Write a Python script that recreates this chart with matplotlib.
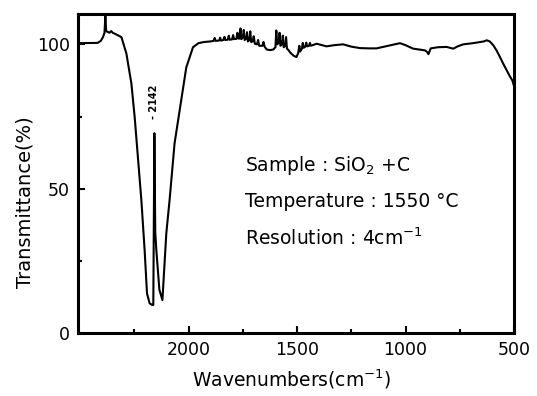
import matplotlib
matplotlib.use("Agg")
import matplotlib.pyplot as plt
from matplotlib.ticker import FixedLocator

# -----------------------------
# Data
# -----------------------------
wavenumber = [
    2510, 2420, 2405, 2395, 2388, 2384, 2380, 2372, 2365, 2357, 2350, 2341,
    2326, 2310, 2287, 2264, 2249, 2234, 2218, 2203, 2192, 2180, 2170, 2163,
    2158, 2154, 2149, 2135, 2121, 2103, 2088, 2065, 2042, 2011, 1980, 1955,
    1930, 1900,
    1885, 1880, 1876, 1860, 1855, 1851, 1840, 1835, 1831, 1820, 1815, 1811,
    1800, 1795, 1791, 1780, 1775, 1771, 1765, 1761, 1757, 1750, 1746, 1742,
    1735, 1731, 1727, 1720, 1716, 1712, 1705, 1700, 1695, 1685, 1680, 1675,
    1660, 1655, 1650, 1640, 1625, 1610, 1600, 1596, 1592, 1585, 1581, 1577,
    1570, 1566, 1562, 1555, 1551, 1547, 1540, 1530, 1515, 1503, 1495, 1490,
    1486, 1478, 1474, 1470, 1462, 1458, 1454, 1445, 1441, 1437, 1425, 1410,
    1390, 1364, 1330, 1288, 1250, 1211, 1170, 1134, 1080, 1026, 1000, 965,
    910, 900, 895, 890, 884, 850, 811, 780, 760, 734, 700, 672, 640, 626,
    612, 596, 580, 565, 550, 534, 520, 508, 500,
]
transmittance = [
    100.4, 100.5, 101.2, 102.5, 104.0, 109.8, 104.5, 104.3, 104.0, 104.6, 104.0, 103.7,
    103.1, 102.5, 96.8, 86.4, 74.9, 61.0, 46.0, 28.7, 13.7, 10.3, 9.8, 9.7,
    69.2, 35.0, 28.7, 15.0, 11.4, 34.6, 46.0, 65.7, 77.0, 92.0, 99.0, 100.4,
    100.8, 101.0,
    101.2, 102.2, 101.2, 101.3, 102.3, 101.3, 101.5, 102.6, 101.5, 101.6, 103.0, 101.6,
    101.7, 103.2, 101.8, 101.9, 104.0, 102.0, 102.0, 105.5, 101.8, 102.5, 105.0, 101.5,
    102.0, 104.2, 101.0, 101.5, 104.5, 100.8, 101.0, 102.8, 100.2, 100.0, 101.5, 99.5,
    99.5, 100.8, 99.2, 98.2, 98.0, 98.2, 99.0, 104.8, 100.0, 100.5, 104.0, 99.5,
    100.0, 103.0, 99.0, 99.5, 102.5, 98.5, 98.0, 97.0, 96.0, 95.6, 97.0, 99.5,
    97.5, 98.5, 100.5, 98.8, 99.2, 100.6, 99.3, 99.5, 100.5, 99.5, 99.8, 100.2,
    99.8, 99.3, 99.7, 100.0, 99.2, 98.7, 98.6, 98.6, 99.5, 100.4, 99.7, 98.5,
    97.9, 97.3, 96.6, 97.5, 98.6, 99.0, 99.1, 98.5, 99.3, 100.0, 100.3, 100.6, 101.0, 101.4,
    101.0, 99.7, 97.8, 95.6, 93.3, 91.0, 89.0, 87.5, 85.5,
]

x_ticks = [2000, 1500, 1000, 500]
x_minor = [2250, 1750, 1250, 750]
y_ticks = [0, 50, 100]
y_minor = [25, 75]

peak_label = "2142"
info_lines = [
    "Sample : SiO$_2$ +C",
    "Temperature : 1550 °C",
    "Resolution : 4cm$^{-1}$",
]

# -----------------------------
# Plot
# -----------------------------
plt.rcParams["font.family"] = ["DejaVu Sans"]

fig = plt.figure(figsize=(5.37, 3.96), dpi=100)
ax = fig.add_axes([0.1453, 0.159, 0.812, 0.8056])

ax.plot(wavenumber, transmittance, color="black", linewidth=1.5)

ax.set_xlim(2510, 500)
ax.set_ylim(0, 110.5)

ax.xaxis.set_major_locator(FixedLocator(x_ticks))
ax.xaxis.set_minor_locator(FixedLocator(x_minor))
ax.yaxis.set_major_locator(FixedLocator(y_ticks))
ax.yaxis.set_minor_locator(FixedLocator(y_minor))
ax.tick_params(which="both", direction="in", width=1.5, labelsize=12.5)
ax.tick_params(which="major", length=5, pad=6)
ax.tick_params(which="minor", length=3)

for sp in ax.spines.values():
    sp.set_linewidth(2.2)

ax.set_xlabel("Wavenumbers(cm$^{-1}$)", fontsize=13.5)
ax.set_ylabel("Transmittance(%)", fontsize=14)
ax.xaxis.set_label_coords(0.49, -0.108)
ax.yaxis.set_label_coords(-0.1, 0.41)

# peak marker above the sharp band
ax.text(2160, 74, "- " + peak_label, rotation=90, ha="center", va="bottom",
        fontsize=7, fontweight="bold")

for i, line in enumerate(info_lines):
    ax.text(1741, 58 - i * 12.5, line, ha="left", va="center", fontsize=13.5)

fig.savefig("out.png", dpi=100)
